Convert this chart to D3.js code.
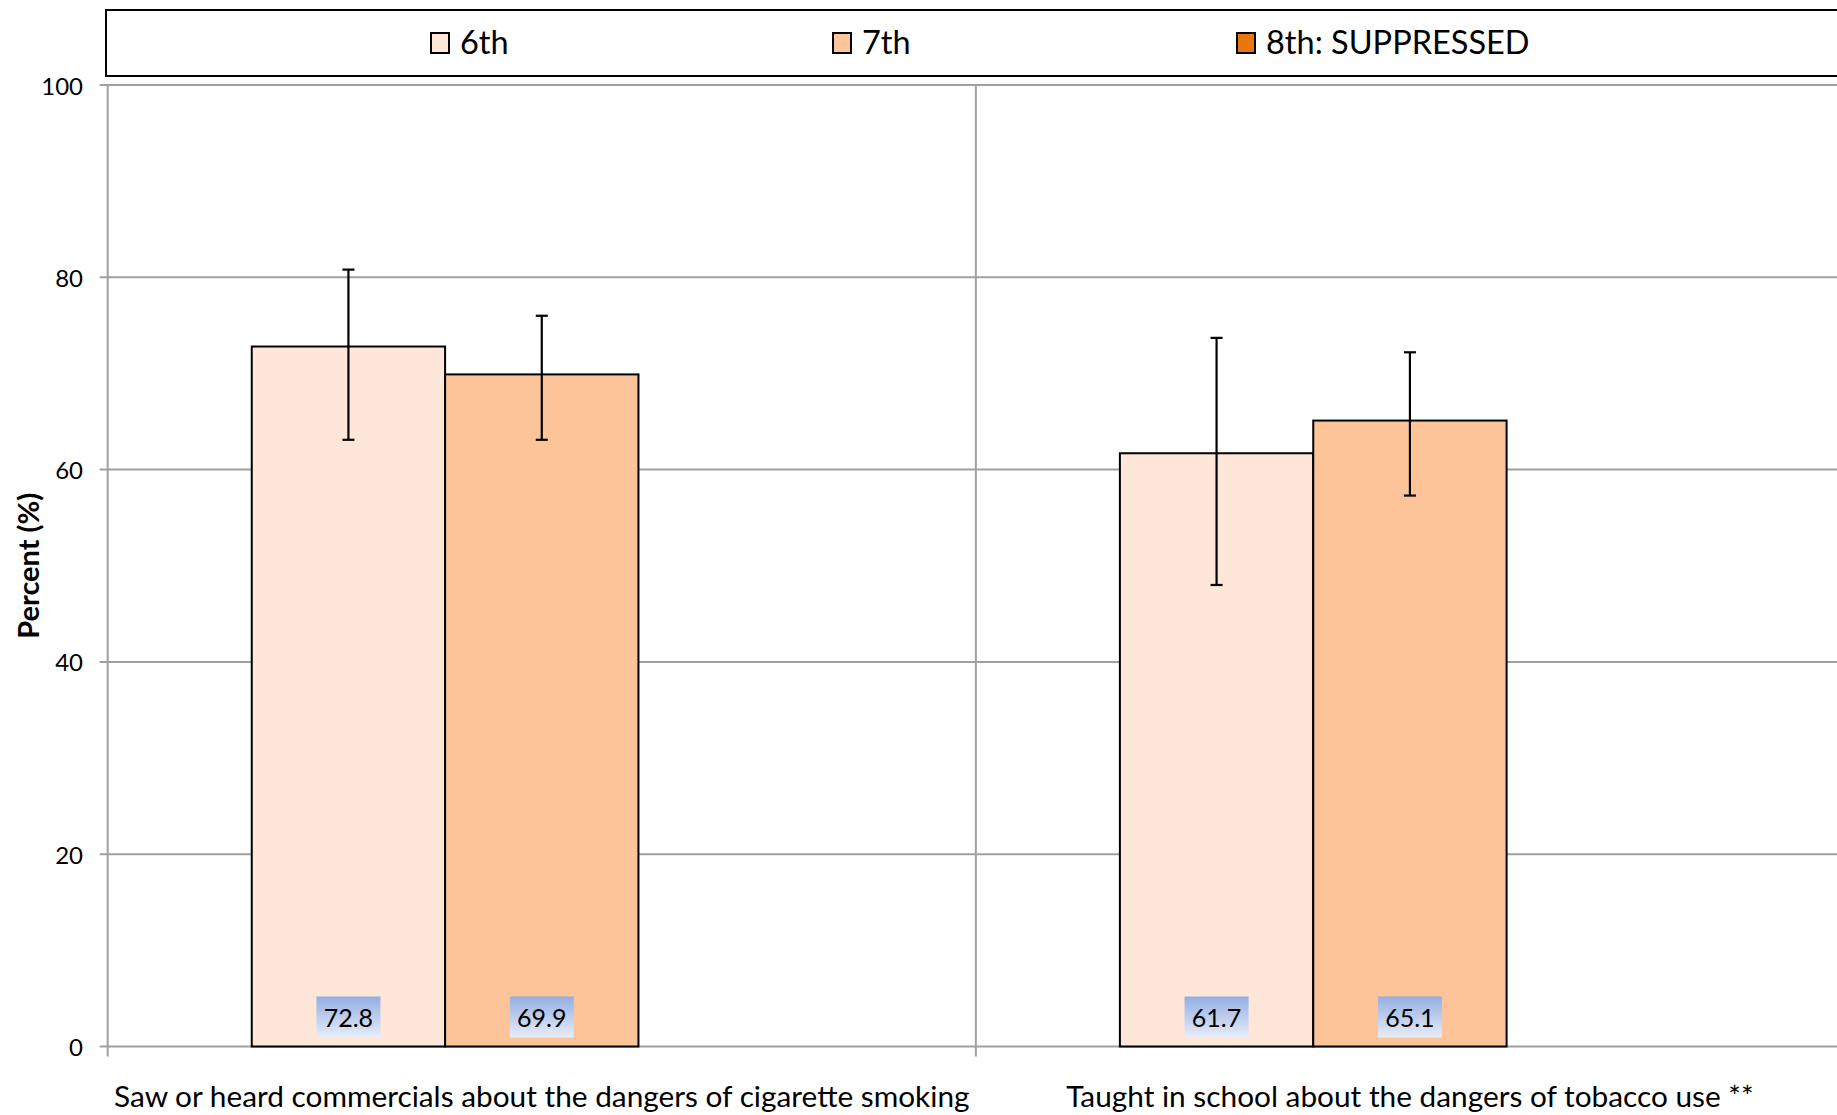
<!DOCTYPE html>
<html>
<head>
<meta charset="utf-8">
<script src="https://cdn.jsdelivr.net/npm/d3@7/dist/d3.min.js"></script>
<style>
  html, body { margin: 0; padding: 0; background: #fff; overflow: hidden; }
  svg { display: block; font-family: Lato, "Open Sans", sans-serif; }
</style>
</head>
<body>
<svg id="chart" width="1837" height="1115"></svg>
<script>
// ---- data ----
const categories = [
  "Saw or heard commercials about the dangers of cigarette smoking",
  "Taught in school about the dangers of tobacco use **"
];
const grades = ["6th", "7th", "8th"];
const legendLabels = ["6th", "7th", "8th: SUPPRESSED"];
const values6th = [72.8, 61.7];
const values7th = [69.9, 65.1];
const values8th = [null, null]; // suppressed
const lower6th = [63.1, 48.0];
const upper6th = [80.8, 73.7];
const lower7th = [63.1, 57.3];
const upper7th = [76.0, 72.2];
const lower8th = [null, null];
const upper8th = [null, null];
const yTicks = [0, 20, 40, 60, 80, 100];
const colors = ["#FEE6D9", "#FDC499", "#E8780E"];

// ---- build rows ----
const seriesVals = [values6th, values7th, values8th];
const seriesLo = [lower6th, lower7th, lower8th];
const seriesHi = [upper6th, upper7th, upper8th];
const rows = [];
categories.forEach((c, ci) => {
  grades.forEach((g, gi) => {
    rows.push({cat: c, grade: g, gi, v: seriesVals[gi][ci], lo: seriesLo[gi][ci], hi: seriesHi[gi][ci]});
  });
});

const svg = d3.select("#chart");
const pLeft = 107.7, pRight = 1844, pTop = 85, pBottom = 1046.5;

const x = d3.scaleBand().domain(categories).range([pLeft, pRight]).paddingInner(0).paddingOuter(0);
const xs = d3.scaleBand().domain(grades).range([0, x.bandwidth()]).paddingInner(0).paddingOuter(0.745);
const y = d3.scaleLinear().domain([0, 100]).range([pBottom, pTop]);
const gridColor = "#A0A0A0";

// horizontal gridlines
svg.append("g").selectAll("line").data(yTicks).join("line")
  .attr("x1", pLeft - 8).attr("x2", pRight)
  .attr("y1", d => y(d)).attr("y2", d => y(d))
  .attr("stroke", gridColor).attr("stroke-width", 2);

// vertical category boundaries
const bounds = [pLeft].concat(categories.map(c => x(c) + x.bandwidth()));
svg.append("g").selectAll("line").data(bounds).join("line")
  .attr("x1", d => d).attr("x2", d => d)
  .attr("y1", pTop).attr("y2", pBottom + 10)
  .attr("stroke", gridColor).attr("stroke-width", 2);

// y tick labels
svg.append("g").selectAll("text").data(yTicks).join("text")
  .attr("x", 83).attr("y", d => y(d))
  .attr("text-anchor", "end").attr("dominant-baseline", "central")
  .attr("font-size", 24).attr("fill", "#000")
  .text(d => d);

// y title
svg.append("text")
  .attr("transform", `translate(27,${(pTop + pBottom) / 2}) rotate(-90)`)
  .attr("text-anchor", "middle").attr("dominant-baseline", "central")
  .attr("font-size", 29).attr("font-weight", "bold").attr("fill", "#000")
  .text("Percent (%)");

// bars
const barRows = rows.filter(r => r.v != null);
svg.append("g").selectAll("rect").data(barRows).join("rect")
  .attr("x", r => x(r.cat) + xs(r.grade))
  .attr("y", r => y(r.v))
  .attr("width", xs.bandwidth())
  .attr("height", r => y(0) - y(r.v))
  .attr("fill", r => colors[r.gi])
  .attr("stroke", "#000").attr("stroke-width", 2);

// error bars
const eb = svg.append("g").attr("stroke", "#000").attr("stroke-width", 2.2);
barRows.forEach(r => {
  const cx = x(r.cat) + xs(r.grade) + xs.bandwidth() / 2;
  eb.append("line").attr("x1", cx).attr("x2", cx).attr("y1", y(r.hi)).attr("y2", y(r.lo));
  eb.append("line").attr("x1", cx - 6).attr("x2", cx + 6).attr("y1", y(r.hi)).attr("y2", y(r.hi));
  eb.append("line").attr("x1", cx - 6).attr("x2", cx + 6).attr("y1", y(r.lo)).attr("y2", y(r.lo));
});

// value labels with gradient boxes
const defs = svg.append("defs");
const grad = defs.append("linearGradient").attr("id", "lblGrad").attr("x1", 0).attr("y1", 0).attr("x2", 0).attr("y2", 1);
grad.append("stop").attr("offset", "0%").attr("stop-color", "#93AEE2");
grad.append("stop").attr("offset", "100%").attr("stop-color", "#E8EDF8");
const lbl = svg.append("g");
barRows.forEach(r => {
  const cx = x(r.cat) + xs(r.grade) + xs.bandwidth() / 2;
  lbl.append("rect").attr("x", cx - 32).attr("y", y(0) - 50).attr("width", 64).attr("height", 41)
    .attr("fill", "url(#lblGrad)");
  lbl.append("text").attr("x", cx).attr("y", y(0) - 29.5)
    .attr("text-anchor", "middle").attr("dominant-baseline", "central")
    .attr("font-size", 25).attr("fill", "#000").text(r.v.toFixed(1));
});

// x category labels
svg.append("g").selectAll("text").data(categories).join("text")
  .attr("x", c => x(c) + x.bandwidth() / 2).attr("y", 1107)
  .attr("text-anchor", "middle").attr("font-size", 29.8).attr("fill", "#000")
  .text(c => c);

// legend
svg.append("rect").attr("x", 106).attr("y", 10).attr("width", 1760).attr("height", 66)
  .attr("fill", "#fff").attr("stroke", "#000").attr("stroke-width", 2);
const legendX = [431, 833, 1237];
const lg = svg.append("g").selectAll("g").data(legendLabels).join("g")
  .attr("transform", (d, i) => `translate(${legendX[i]},0)`);
lg.append("rect").attr("x", 0).attr("y", 33).attr("width", 18).attr("height", 20)
  .attr("fill", (d, i) => colors[i]).attr("stroke", "#000").attr("stroke-width", 2);
lg.append("text").attr("x", 29).attr("y", 54).attr("font-size", 32.5).attr("fill", "#000")
  .text(d => d);
</script>
</body>
</html>
